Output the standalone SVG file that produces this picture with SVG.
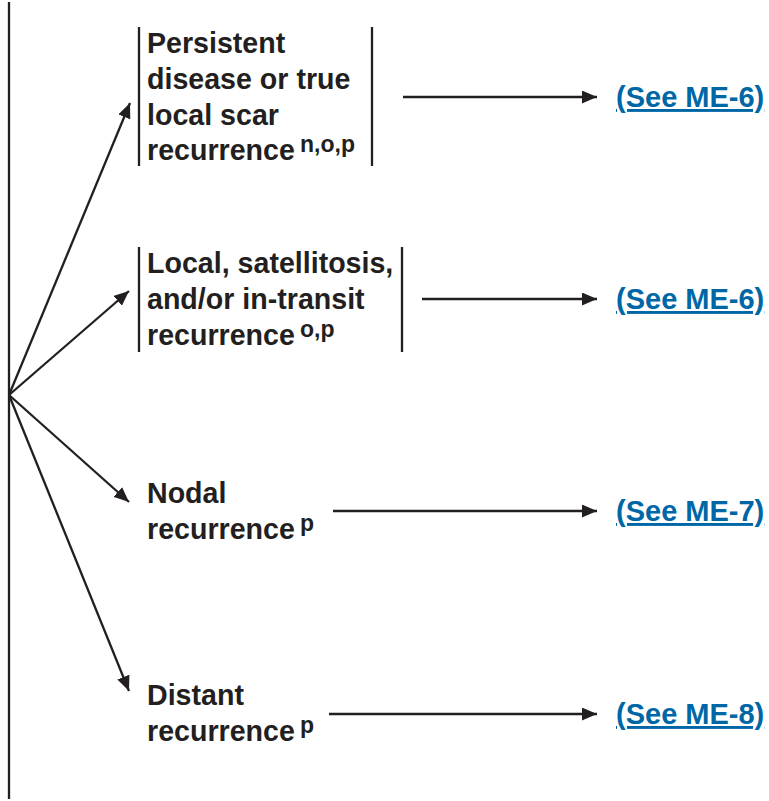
<svg xmlns="http://www.w3.org/2000/svg" width="769" height="801" viewBox="0 0 769 801">
<style>
.t{font-family:"Liberation Sans",Arial,sans-serif;font-weight:bold;font-size:28.6px;fill:#231f20}
.s{font-family:"Liberation Sans",Arial,sans-serif;font-weight:bold;font-size:23px;fill:#231f20}
.l{font-family:"Liberation Sans",Arial,sans-serif;font-weight:bold;font-size:29px;fill:#0067a6;text-decoration:underline}
.ln{stroke:#231f20;stroke-width:2.3;fill:none}
.br{stroke:#231f20;stroke-width:2.3}
</style>
<defs>
<marker id="ah" markerUnits="userSpaceOnUse" markerWidth="15" markerHeight="13" refX="15" refY="6.5" orient="auto">
<path d="M0,0 L15,6.5 L0,13 Z" fill="#231f20"/>
</marker>
</defs>
<g id="connectors">
<line class="ln" x1="9" y1="2" x2="9" y2="799"/>
<line class="ln" x1="9" y1="395" x2="130" y2="103" marker-end="url(#ah)"/>
<line class="ln" x1="9" y1="395" x2="129" y2="291" marker-end="url(#ah)"/>
<line class="ln" x1="9" y1="395" x2="129" y2="502" marker-end="url(#ah)"/>
<line class="ln" x1="9" y1="395" x2="129" y2="691" marker-end="url(#ah)"/>
<line class="ln" x1="403" y1="97" x2="597" y2="97" marker-end="url(#ah)"/>
<line class="ln" x1="422" y1="299" x2="597" y2="299" marker-end="url(#ah)"/>
<line class="ln" x1="333" y1="511" x2="597" y2="511" marker-end="url(#ah)"/>
<line class="ln" x1="329" y1="714" x2="597" y2="714" marker-end="url(#ah)"/>
</g>
<g id="node-persistent">
<line class="br" x1="139" y1="27" x2="139" y2="166"/>
<line class="br" x1="372" y1="27" x2="372" y2="166"/>
<text class="t" x="147" y="53">Persistent</text>
<text class="t" x="147" y="89">disease or true</text>
<text class="t" x="147" y="125">local scar</text>
<text class="t" x="147" y="160">recurrence</text>
<text class="s" x="300" y="152">n,o,p</text>
</g>
<g id="node-local">
<line class="br" x1="139" y1="247" x2="139" y2="352"/>
<line class="br" x1="402" y1="247" x2="402" y2="352"/>
<text class="t" x="147" y="273">Local, satellitosis,</text>
<text class="t" x="147" y="309">and/or in-transit</text>
<text class="t" x="147" y="345">recurrence</text>
<text class="s" x="300" y="337">o,p</text>
</g>
<g id="node-nodal">
<text class="t" x="147" y="503">Nodal</text>
<text class="t" x="147" y="539">recurrence</text>
<text class="s" x="300" y="531">p</text>
</g>
<g id="node-distant">
<text class="t" x="147" y="705">Distant</text>
<text class="t" x="147" y="741">recurrence</text>
<text class="s" x="300" y="733">p</text>
</g>
<g id="link-me6a"><text class="l" x="616" y="107">(See ME-6)</text></g>
<g id="link-me6b"><text class="l" x="616" y="309">(See ME-6)</text></g>
<g id="link-me7"><text class="l" x="616" y="521">(See ME-7)</text></g>
<g id="link-me8"><text class="l" x="616" y="724">(See ME-8)</text></g>
</svg>
